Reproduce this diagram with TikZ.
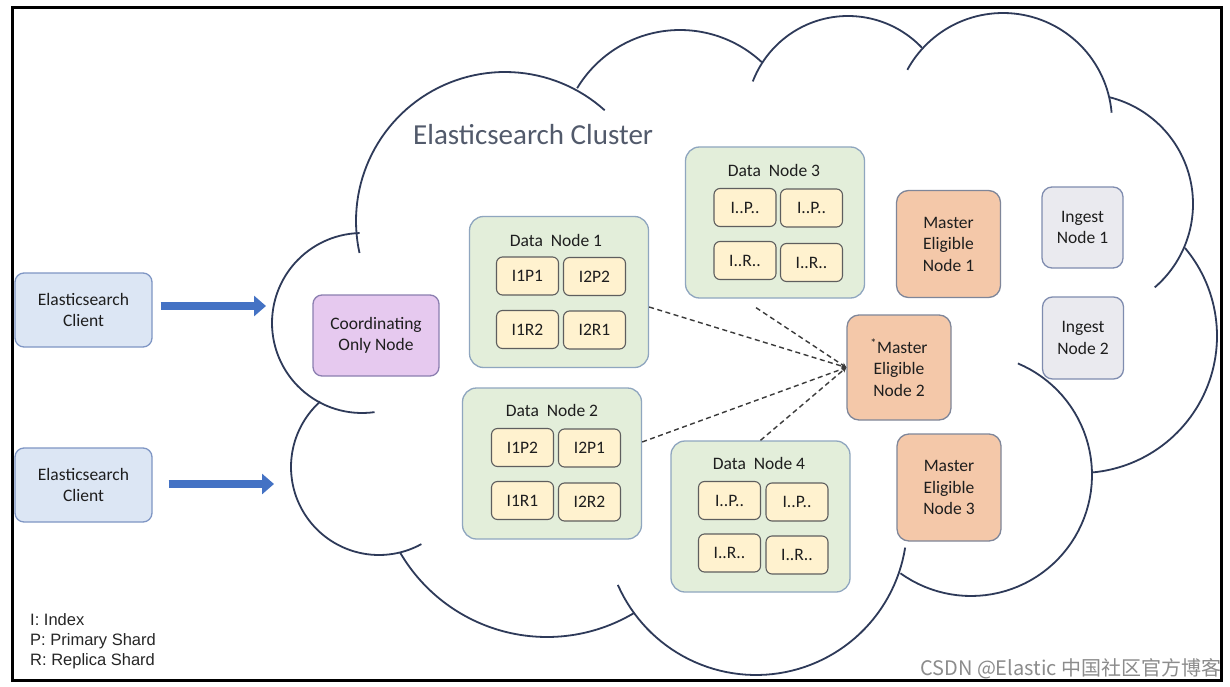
\documentclass[tikz,border=0pt]{standalone}
\usepackage{fontspec}
\setmainfont{Carlito}
\newfontfamily\legendfont{Liberation Sans}
\newfontfamily\cjkfont{Noto Sans CJK SC}
\usetikzlibrary{arrows.meta,calc}
\definecolor{cloudc}{HTML}{2E3A59}
\definecolor{textc}{HTML}{1E1E1E}
\definecolor{titlec}{HTML}{525A6B}
\definecolor{clientf}{HTML}{DCE6F4}
\definecolor{clientd}{HTML}{7F96C4}
\definecolor{coordf}{HTML}{E6C9EF}
\definecolor{coordd}{HTML}{8B7FB0}
\definecolor{dataf}{HTML}{E3EEDA}
\definecolor{datad}{HTML}{8FA6BF}
\definecolor{shardf}{HTML}{FFF2CF}
\definecolor{shardd}{HTML}{5E5E5E}
\definecolor{masterf}{HTML}{F4C8A9}
\definecolor{masterd}{HTML}{7F8699}
\definecolor{ingestf}{HTML}{EAEAEF}
\definecolor{ingestd}{HTML}{7F8CAF}
\definecolor{arrowblue}{HTML}{4472C4}
\definecolor{dashc}{HTML}{3A3A3A}
\newcommand{\cloudarc}[5]{\draw[cloudline] plot[domain=#4:#5,samples=60,variable=\t] ({#1+#3*cos(\t)},{#2+#3*sin(\t)});}
\begin{document}
\begin{tikzpicture}[x=1pt,y=-1pt,
  cloudline/.style={draw=cloudc, line width=1.8pt},
  box/.style={rounded corners=9pt, line width=1.3pt, align=center, inner sep=0pt, text=textc, font=\fontsize{17.5}{21.5}\selectfont},
  client/.style={box, fill=clientf, draw=clientd, minimum width=137pt, minimum height=74pt},
  coordbox/.style={box, fill=coordf, draw=coordd, minimum width=126pt, minimum height=81pt},
  databox/.style={box, fill=dataf, draw=datad, rounded corners=14pt, minimum width=179pt, minimum height=151pt},
  dtitle/.style={inner sep=0pt, text=textc, font=\fontsize{17.5}{21.5}\selectfont},
  shard/.style={box, fill=shardf, draw=shardd, rounded corners=6pt, line width=1.1pt, minimum width=62pt, minimum height=38pt},
  master/.style={box, fill=masterf, draw=masterd, rounded corners=12pt, minimum width=104pt, minimum height=107pt},
  ingest/.style={box, fill=ingestf, draw=ingestd, rounded corners=10pt, minimum width=81pt, minimum height=81pt},
  bigarrow/.style={draw=arrowblue, line width=8pt, -{Triangle[length=12pt,width=20pt]}},
  dashlink/.style={draw=dashc, line width=1.4pt, dash pattern=on 5pt off 3.5pt, -{Stealth[length=5pt,width=5pt]}},
  legendtext/.style={anchor=base west, inner sep=0pt, text=black!85, font=\legendfont\fontsize{16.5}{20}\selectfont}
]
\useasboundingbox (0,0) rectangle (1230,687);
\fill[white] (0,0) rectangle (1230,687);

% cloud
\cloudarc{505}{221}{149}{167.6}{312}
\cloudarc{680}{150}{120}{211}{313}
\cloudarc{848}{118}{102}{201}{316.4}
\cloudarc{1003}{122}{109}{208.6}{355.1}
\cloudarc{1083}{204}{110}{284.1}{409.3}
\cloudarc{1080}{336}{137}{320}{444.9}
\cloudarc{971}{475}{121}{292.8}{485.7}
\cloudarc{756}{524}{151}{9}{156.2}
\cloudarc{547}{467}{170}{59.1}{149.7}
\cloudarc{379}{467}{88}{61.2}{228.1}
\cloudarc{362}{323}{90}{82}{268.5}

% frame
\draw[black, line width=3pt] (12,8) rectangle (1221,680);

% title
\node[anchor=west, inner sep=0pt, text=titlec, font=\fontsize{29}{34}\selectfont] (title) at (413,135) {Elasticsearch Cluster};

% clients
\node[client] (c1) at (83.5,310) {Elasticsearch\\Client};
\node[client] (c2) at (83.5,485) {Elasticsearch\\Client};

% coordinating
\node[coordbox] (co) at (376,335.5) {Coordinating\\Only Node};

% data nodes
\node[databox] (dn1) at (559,292) {};
\node[dtitle] (dn1t) at (556,240) {Data~ Node 1};
\node[shard] (s11) at (527.5,276) {I1P1};
\node[shard] (s12) at (594.5,276.5) {I2P2};
\node[shard] (s13) at (527.5,329.5) {I1R2};
\node[shard] (s14) at (594.5,330) {I2R1};

\node[databox] (dn2) at (552,463.5) {};
\node[dtitle] (dn2t) at (552,410) {Data~ Node 2};
\node[shard] (s21) at (522.5,447.5) {I1P2};
\node[shard] (s22) at (589.5,448) {I2P1};
\node[shard] (s23) at (522.5,500.5) {I1R1};
\node[shard] (s24) at (589.5,502) {I2R2};

\node[databox] (dn3) at (775,222.5) {};
\node[dtitle] (dn3t) at (774,170) {Data~ Node 3};
\node[shard] (s31) at (745,207.5) {I..P..};
\node[shard] (s32) at (811.5,208) {I..P..};
\node[shard] (s33) at (745,260.5) {I..R..};
\node[shard] (s34) at (811.5,262.5) {I..R..};

\node[databox] (dn4) at (760.5,516.5) {};
\node[dtitle] (dn4t) at (759,463) {Data~ Node 4};
\node[shard] (s41) at (729.5,500.5) {I..P..};
\node[shard] (s42) at (797,502) {I..P..};
\node[shard] (s43) at (729.5,553) {I..R..};
\node[shard] (s44) at (797,555) {I..R..};

% master eligible nodes
\node[master] (m1) at (948.5,244) {Master\\Eligible\\Node 1};
\node[master, minimum height=105pt] (m2) at (899,367.5) {\textsuperscript{*}Master\\Eligible\\Node 2};
\node[master] (m3) at (949,487.5) {Master\\Eligible\\Node 3};

% ingest nodes
\node[ingest] (i1) at (1082.5,227.5) {Ingest\\Node 1};
\node[ingest, minimum height=82pt] (i2) at (1083,338) {Ingest\\Node 2};

% client arrows
\coordinate (a1s) at ($(c1.east)+(8,-4)$);
\coordinate (a1e) at (266,306);
\coordinate (a2s) at ($(c2.east)+(16,-1)$);
\coordinate (a2e) at (274,484);
\draw[bigarrow] (a1s) -- (a1e);
\draw[bigarrow] (a2s) -- (a2e);

% dashed links to elected master
\coordinate (d3s) at ($(dn3.south)+(-19,9)$);
\draw[dashlink] ($(dn1.east)+(0,15)$) -- (m2.west);
\draw[dashlink] (d3s) -- (m2.west);
\draw[dashlink] ($(dn2.east)+(0,-21.5)$) -- (m2.west);
\draw[dashlink] (dn4.north) -- (m2.west);

% legend
\node[legendtext] (lg1) at (30,625) {I: Index};
\node[legendtext] (lg2) at (30,645) {P: Primary Shard};
\node[legendtext] (lg3) at (30,665) {R: Replica Shard};

% watermark
\node[anchor=base west, inner sep=0pt, text=black!45, font=\cjkfont\fontsize{20}{20}\selectfont] (wm) at (920,675) {CSDN @Elastic 中国社区官方博客};
\end{tikzpicture}
\end{document}
